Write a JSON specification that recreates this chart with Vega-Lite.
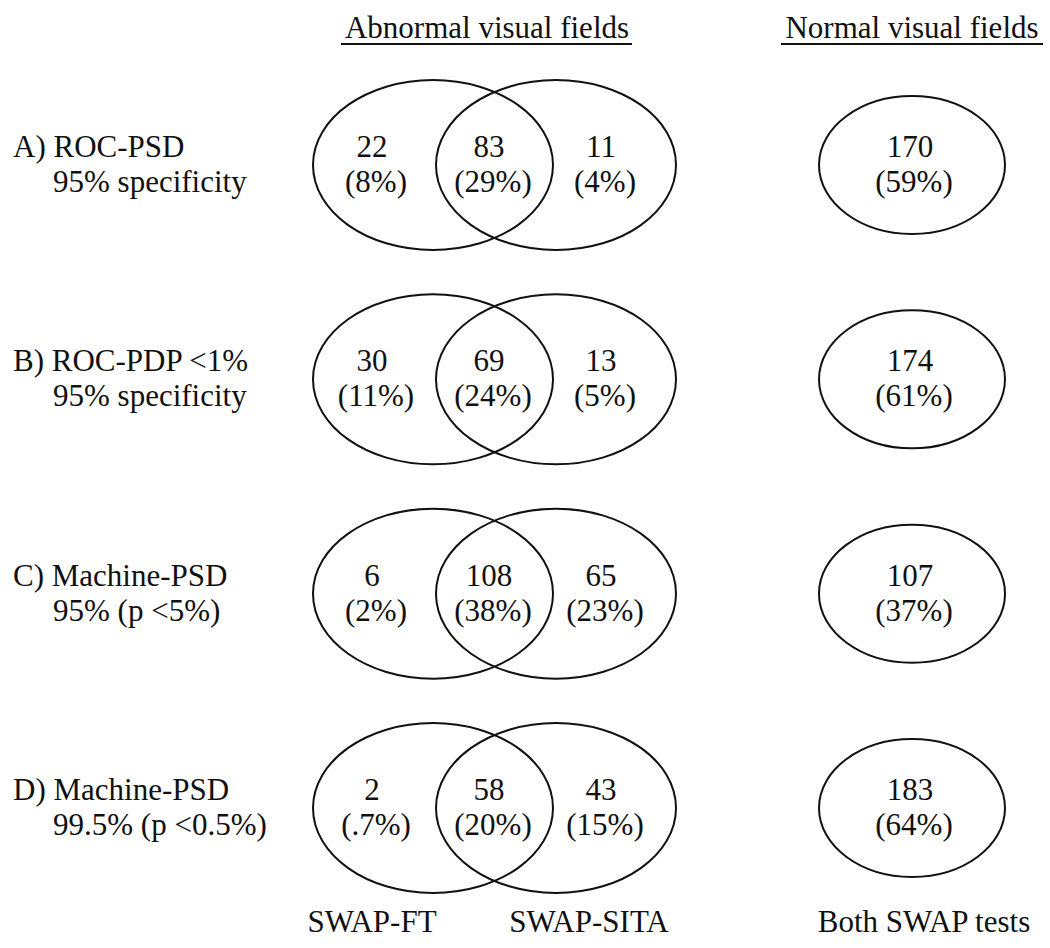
{
  "$schema": "https://vega.github.io/schema/vega-lite/v6.json",
  "width": 1050,
  "height": 948,
  "autosize": "none",
  "padding": 0,
  "background": "white",
  "config": {
    "view": {"stroke": null},
    "text": {"font": "Liberation Serif", "fontSize": 31, "color": "#111111"}
  },
  "datasets": {
    "counts": [
      {"crit": "A", "region": "SWAP-FT only", "x": 376, "n": "22", "pct": "(8%)"},
      {"crit": "A", "region": "Both abnormal", "x": 493, "n": "83", "pct": "(29%)"},
      {"crit": "A", "region": "SWAP-SITA only", "x": 605, "n": "11", "pct": "(4%)"},
      {"crit": "A", "region": "Both normal", "x": 914, "n": "170", "pct": "(59%)"},
      {"crit": "B", "region": "SWAP-FT only", "x": 376, "n": "30", "pct": "(11%)"},
      {"crit": "B", "region": "Both abnormal", "x": 493, "n": "69", "pct": "(24%)"},
      {"crit": "B", "region": "SWAP-SITA only", "x": 605, "n": "13", "pct": "(5%)"},
      {"crit": "B", "region": "Both normal", "x": 914, "n": "174", "pct": "(61%)"},
      {"crit": "C", "region": "SWAP-FT only", "x": 376, "n": "6", "pct": "(2%)"},
      {"crit": "C", "region": "Both abnormal", "x": 493, "n": "108", "pct": "(38%)"},
      {"crit": "C", "region": "SWAP-SITA only", "x": 605, "n": "65", "pct": "(23%)"},
      {"crit": "C", "region": "Both normal", "x": 914, "n": "107", "pct": "(37%)"},
      {"crit": "D", "region": "SWAP-FT only", "x": 376, "n": "2", "pct": "(.7%)"},
      {"crit": "D", "region": "Both abnormal", "x": 493, "n": "58", "pct": "(20%)"},
      {"crit": "D", "region": "SWAP-SITA only", "x": 605, "n": "43", "pct": "(15%)"},
      {"crit": "D", "region": "Both normal", "x": 914, "n": "183", "pct": "(64%)"}
    ],
    "sets": [
      {"crit": "A", "set": "SWAP-FT", "kind": "pair", "x": 433},
      {"crit": "A", "set": "SWAP-SITA", "kind": "pair", "x": 556},
      {"crit": "A", "set": "Both SWAP tests", "kind": "single", "x": 912},
      {"crit": "B", "set": "SWAP-FT", "kind": "pair", "x": 433},
      {"crit": "B", "set": "SWAP-SITA", "kind": "pair", "x": 556},
      {"crit": "B", "set": "Both SWAP tests", "kind": "single", "x": 912},
      {"crit": "C", "set": "SWAP-FT", "kind": "pair", "x": 433},
      {"crit": "C", "set": "SWAP-SITA", "kind": "pair", "x": 556},
      {"crit": "C", "set": "Both SWAP tests", "kind": "single", "x": 912},
      {"crit": "D", "set": "SWAP-FT", "kind": "pair", "x": 433},
      {"crit": "D", "set": "SWAP-SITA", "kind": "pair", "x": 556},
      {"crit": "D", "set": "Both SWAP tests", "kind": "single", "x": 912}
    ],
    "labels": [
      {"crit": "A", "x": 13, "line1": "A) ROC-PSD", "line2": "95% specificity"},
      {"crit": "B", "x": 13, "line1": "B) ROC-PDP <1%", "line2": "95% specificity"},
      {"crit": "C", "x": 13, "line1": "C) Machine-PSD", "line2": "95% (p <5%)"},
      {"crit": "D", "x": 13, "line1": "D) Machine-PSD", "line2": "99.5% (p <0.5%)"}
    ],
    "headers": [
      {"crit": "A", "text": "Abnormal visual fields", "x": 487, "x1": 341, "x2": 632},
      {"crit": "A", "text": "Normal visual fields", "x": 912, "x1": 781, "x2": 1043}
    ],
    "footers": [
      {"crit": "D", "text": "SWAP-FT", "x": 372},
      {"crit": "D", "text": "SWAP-SITA", "x": 589},
      {"crit": "D", "text": "Both SWAP tests", "x": 924}
    ]
  },
  "encoding": {
    "y": {
      "field": "crit",
      "type": "nominal",
      "axis": null,
      "scale": {"type": "point", "domain": ["A", "B", "C", "D"], "range": [165, 808], "padding": 0}
    }
  },
  "layer": [
    {
      "data": {"name": "sets"},
      "mark": {"type": "point", "filled": false, "stroke": "#111111", "strokeWidth": 2, "opacity": 1, "size": 57600},
      "encoding": {
        "x": {"field": "x", "type": "quantitative", "axis": null, "scale": {"domain": [0, 1050], "range": [0, 1050], "nice": false, "zero": false}},
        "shape": {
          "field": "kind",
          "type": "nominal",
          "legend": null,
          "scale": {
            "domain": ["pair", "single"],
            "range": [
              "M1,0C1,0.3912,0.5523,0.7083,0,0.7083C-0.5523,0.7083,-1,0.3912,-1,0C-1,-0.3912,-0.5523,-0.7083,0,-0.7083C0.5523,-0.7083,1,-0.3912,1,0Z",
              "M0.775,0C0.775,0.3176,0.428,0.575,0,0.575C-0.428,0.575,-0.775,0.3176,-0.775,0C-0.775,-0.3176,-0.428,-0.575,0,-0.575C0.428,-0.575,0.775,-0.3176,0.775,0Z"
            ]
          }
        }
      }
    },
    {
      "data": {"name": "counts"},
      "mark": {"type": "text", "align": "center", "baseline": "middle", "dy": -17, "dx": -4},
      "encoding": {
        "x": {"field": "x", "type": "quantitative"},
        "text": {"field": "n"}
      }
    },
    {
      "data": {"name": "counts"},
      "mark": {"type": "text", "align": "center", "baseline": "middle", "dy": 18},
      "encoding": {
        "x": {"field": "x", "type": "quantitative"},
        "text": {"field": "pct"}
      }
    },
    {
      "data": {"name": "labels"},
      "mark": {"type": "text", "align": "left", "baseline": "middle", "dy": -17},
      "encoding": {
        "x": {"field": "x", "type": "quantitative"},
        "text": {"field": "line1"}
      }
    },
    {
      "data": {"name": "labels"},
      "mark": {"type": "text", "align": "left", "baseline": "middle", "dy": 18, "dx": 40},
      "encoding": {
        "x": {"field": "x", "type": "quantitative"},
        "text": {"field": "line2"}
      }
    },
    {
      "data": {"name": "headers"},
      "mark": {"type": "text", "align": "center", "baseline": "middle", "dy": -136},
      "encoding": {
        "x": {"field": "x", "type": "quantitative"},
        "text": {"field": "text"}
      }
    },
    {
      "data": {"name": "headers"},
      "mark": {"type": "rule", "stroke": "#111111", "strokeWidth": 2, "yOffset": -121},
      "encoding": {
        "x": {"field": "x1", "type": "quantitative"},
        "x2": {"field": "x2"}
      }
    },
    {
      "data": {"name": "footers"},
      "mark": {"type": "text", "align": "center", "baseline": "middle", "dy": 115},
      "encoding": {
        "x": {"field": "x", "type": "quantitative"},
        "text": {"field": "text"}
      }
    }
  ]
}
